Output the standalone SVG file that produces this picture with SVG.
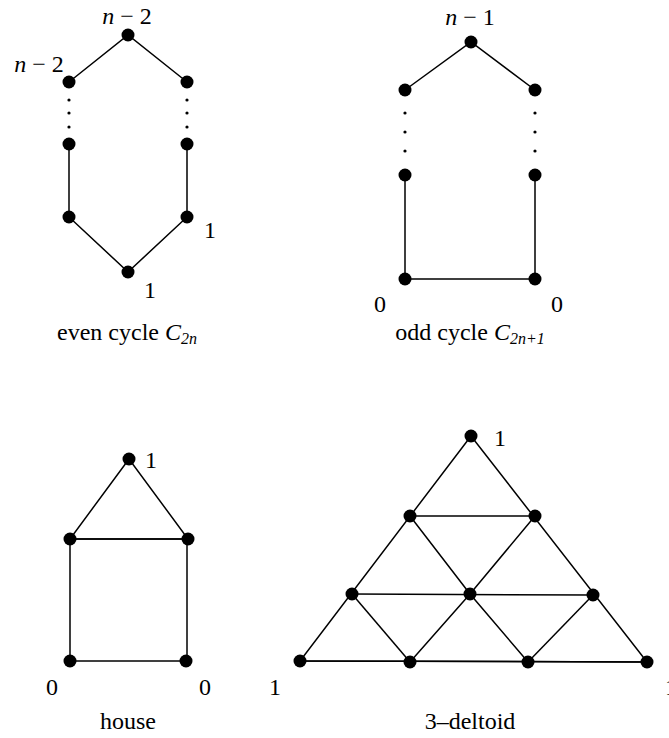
<svg xmlns="http://www.w3.org/2000/svg" width="669" height="738" viewBox="0 0 669 738">
<style>
.e{stroke:#000;stroke-width:1.5;fill:none}
.n{fill:#000}
.d{fill:#000}
text{font-family:"Liberation Serif","Times New Roman",serif;font-size:24px;fill:#000}
.m{font-style:italic}
.c{text-anchor:middle}
.s{font-size:16px;font-style:italic}
</style>
<rect width="669" height="738" fill="#fff"/>
<g id="connectors">
<polyline class="e" points="69,82 128,35 187,82"/>
<polyline class="e" points="69,144 69,217 128,272 187,217 187,144"/>
<polyline class="e" points="405,90 471,42 535,90"/>
<polyline class="e" points="405,175 405,279 535,279 535,175"/>
<polygon class="e" points="129,459 70,539 188,539"/>
<rect class="e" x="70" y="539" width="117" height="122"/>
<polygon class="e" points="471,436 300,661 647,662"/>
<line class="e" x1="410" y1="516" x2="535" y2="516"/>
<line class="e" x1="352" y1="594" x2="593" y2="595"/>
<line class="e" x1="300" y1="661" x2="647" y2="662"/>
<polyline class="e" points="410,516 470,594 528,662"/>
<polyline class="e" points="535,516 470,594 410,662"/>
<line class="e" x1="352" y1="594" x2="410" y2="662"/>
<line class="e" x1="593" y1="595" x2="528" y2="662"/>
</g>
<g id="even-cycle">
<circle class="n" cx="128" cy="35" r="6.5"/>
<circle class="n" cx="69" cy="82" r="6.5"/>
<circle class="n" cx="187" cy="82" r="6.5"/>
<circle class="n" cx="69" cy="144" r="6.5"/>
<circle class="n" cx="187" cy="144" r="6.5"/>
<circle class="n" cx="69" cy="217" r="6.5"/>
<circle class="n" cx="187" cy="217" r="6.5"/>
<circle class="n" cx="128" cy="272" r="6.5"/>
<circle class="d" cx="69" cy="100" r="1.6"/><circle class="d" cx="69" cy="113" r="1.6"/><circle class="d" cx="69" cy="127" r="1.6"/>
<circle class="d" cx="187" cy="100" r="1.6"/><circle class="d" cx="187" cy="113" r="1.6"/><circle class="d" cx="187" cy="127" r="1.6"/>
<text x="127" y="24" class="c"><tspan class="m">n</tspan> − 2</text>
<text x="39" y="72" class="c"><tspan class="m">n</tspan> − 2</text>
<text x="204" y="238">1</text>
<text x="144" y="298">1</text>
<text x="127" y="340" class="c">even cycle <tspan class="m">C</tspan><tspan class="s" dy="4">2n</tspan></text>
</g>
<g id="odd-cycle">
<circle class="n" cx="471" cy="42" r="6.5"/>
<circle class="n" cx="405" cy="90" r="6.5"/>
<circle class="n" cx="535" cy="90" r="6.5"/>
<circle class="n" cx="405" cy="175" r="6.5"/>
<circle class="n" cx="535" cy="175" r="6.5"/>
<circle class="n" cx="405" cy="279" r="6.5"/>
<circle class="n" cx="535" cy="279" r="6.5"/>
<circle class="d" cx="405" cy="113" r="1.6"/><circle class="d" cx="405" cy="132" r="1.6"/><circle class="d" cx="405" cy="151" r="1.6"/>
<circle class="d" cx="535" cy="113" r="1.6"/><circle class="d" cx="535" cy="132" r="1.6"/><circle class="d" cx="535" cy="151" r="1.6"/>
<text x="470" y="25" class="c"><tspan class="m">n</tspan> − 1</text>
<text x="374" y="312">0</text>
<text x="551" y="312">0</text>
<text x="470" y="340" class="c">odd cycle <tspan class="m">C</tspan><tspan class="s" dy="4">2n+1</tspan></text>
</g>
<g id="house">
<circle class="n" cx="129" cy="459" r="6.5"/>
<circle class="n" cx="70" cy="539" r="6.5"/>
<circle class="n" cx="188" cy="539" r="6.5"/>
<circle class="n" cx="70" cy="661" r="6.5"/>
<circle class="n" cx="186" cy="661" r="6.5"/>
<text x="145" y="468">1</text>
<text x="46" y="695">0</text>
<text x="199" y="695">0</text>
<text x="128" y="729" class="c">house</text>
</g>
<g id="deltoid">
<circle class="n" cx="471" cy="436" r="6.5"/>
<circle class="n" cx="410" cy="516" r="6.5"/>
<circle class="n" cx="535" cy="516" r="6.5"/>
<circle class="n" cx="352" cy="594" r="6.5"/>
<circle class="n" cx="470" cy="594" r="6.5"/>
<circle class="n" cx="593" cy="595" r="6.5"/>
<circle class="n" cx="300" cy="661" r="6.5"/>
<circle class="n" cx="410" cy="662" r="6.5"/>
<circle class="n" cx="528" cy="662" r="6.5"/>
<circle class="n" cx="647" cy="662" r="6.5"/>
<text x="494" y="446">1</text>
<text x="269" y="695">1</text>
<text x="665" y="695">1</text>
<text x="470" y="729" class="c">3–deltoid</text>
</g>
</svg>
